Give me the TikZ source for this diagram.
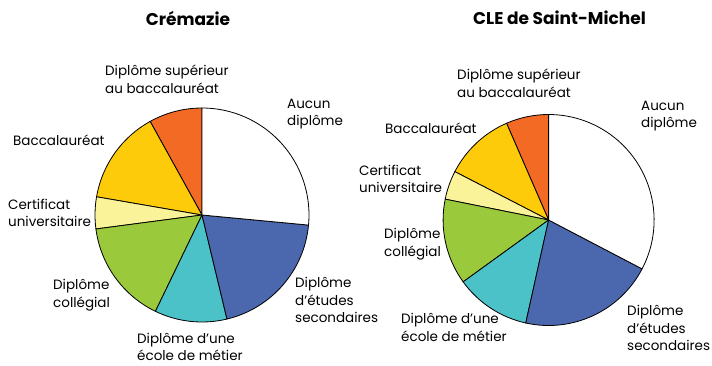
\documentclass[tikz,border=0pt]{standalone}
\usepackage{fontspec}
\setmainfont{Poppins}
\definecolor{cOrange}{HTML}{F26A24}
\definecolor{cYellow}{HTML}{FDCB0A}
\definecolor{cLight}{HTML}{FAF39A}
\definecolor{cGreen}{HTML}{9BC93C}
\definecolor{cTeal}{HTML}{4BC2C7}
\definecolor{cBlue}{HTML}{4B68AF}
\tikzset{
  lbl/.style={anchor=west, inner sep=0pt, align=left, font=\fontsize{13.5}{17.5}\selectfont},
  ttl/.style={inner sep=0pt, font=\fontsize{17}{20}\selectfont\bfseries},
  slice/.style={draw=black, line width=0.8pt, line join=round}
}
\newcommand{\pieslice}[5]{% center, radius, start, end, color
  \filldraw[slice, fill=#5] #1 -- ++(#3:#2) arc[start angle=#3, end angle=#4, radius=#2] -- cycle;}
\begin{document}
\begin{tikzpicture}[x=1pt,y=1pt]
\useasboundingbox (0,0) rectangle (712,-365);
% titles
\node[ttl] (t1) at (188,-18) {Crémazie};
\node[ttl] (t2) at (559.5,-18) {CLE de Saint-Michel};
% left pie
\coordinate (c1) at (202,-215);
\pieslice{(c1)}{107}{90}{119}{cOrange}
\pieslice{(c1)}{107}{119}{170.2}{cYellow}
\pieslice{(c1)}{107}{170.2}{187.5}{cLight}
\pieslice{(c1)}{107}{187.5}{244.2}{cGreen}
\pieslice{(c1)}{107}{244.2}{283.5}{cTeal}
\pieslice{(c1)}{107}{283.5}{354.6}{cBlue}
\pieslice{(c1)}{107}{354.6}{450}{white}
% right pie
\coordinate (c2) at (548.6,-220);
\pieslice{(c2)}{105.5}{90}{113.5}{cOrange}
\pieslice{(c2)}{105.5}{113.5}{152.7}{cYellow}
\pieslice{(c2)}{105.5}{152.7}{168.6}{cLight}
\pieslice{(c2)}{105.5}{168.6}{215.9}{cGreen}
\pieslice{(c2)}{105.5}{215.9}{257.5}{cTeal}
\pieslice{(c2)}{105.5}{257.5}{332.4}{cBlue}
\pieslice{(c2)}{105.5}{332.4}{450}{white}
% left labels
\node[lbl] (l1) at (105,-79.5) {Diplôme supérieur\\au baccalauréat};
\node[lbl] (l2) at (287,-114) {Aucun\\diplôme};
\node[lbl] (l3) at (13,-140) {Baccalauréat};
\node[lbl] (l4) at (8,-213) {Certificat\\universitaire};
\node[lbl] (l5) at (53,-295) {Diplôme\\collégial};
\node[lbl] (l6) at (137,-347) {Diplôme d’une\\école de métier};
\node[lbl] (l7) at (295,-300) {Diplôme\\d’études\\secondaires};
% right labels
\node[lbl] (r1) at (457,-83.5) {Diplôme supérieur\\au baccalauréat};
\node[lbl] (r2) at (641,-116) {Aucun\\diplôme};
\node[lbl] (r3) at (385,-128) {Baccalauréat};
\node[lbl] (r4) at (359,-179) {Certificat\\universitaire};
\node[lbl] (r5) at (384,-244) {Diplôme\\collégial};
\node[lbl] (r6) at (401,-327.5) {Diplôme d’une\\école de métier};
\node[lbl] (r7) at (627,-328) {Diplôme\\d’études\\secondaires};
\end{tikzpicture}
\end{document}
